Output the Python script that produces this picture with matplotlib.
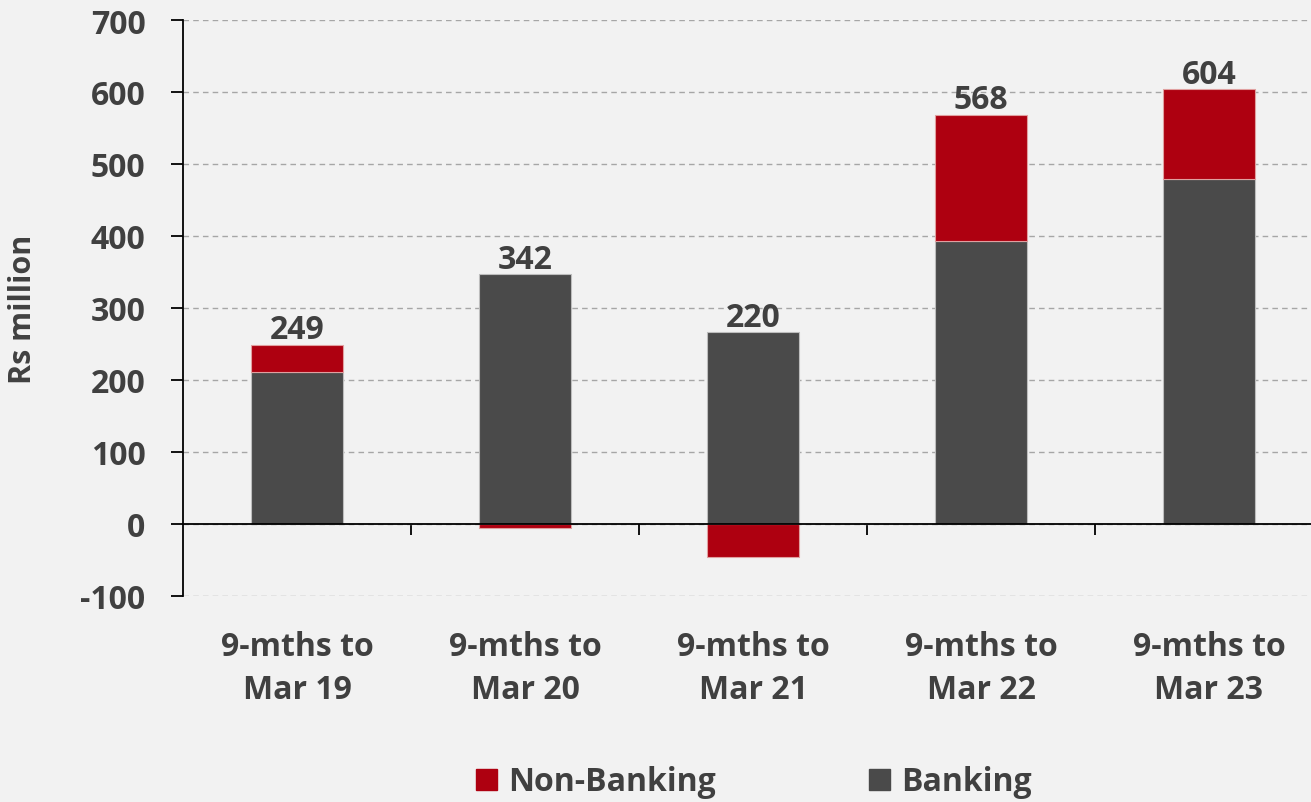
import numpy as np
import matplotlib.pyplot as plt
from matplotlib.patches import Patch

categories = ["9-mths to\nMar 19", "9-mths to\nMar 20", "9-mths to\nMar 21",
              "9-mths to\nMar 22", "9-mths to\nMar 23"]
banking = [211, 347, 266, 393, 479]
non_banking = [38, -5, -46, 175, 125]
totals = [249, 342, 220, 568, 604]

RED = "#ae0010"
GREY = "#4a4a4a"
TXT = "#404040"
BG = "#f2f2f2"

plt.rcParams['font.family'] = ['Open Sans', 'DejaVu Sans']
plt.rcParams['font.weight'] = 'bold'
plt.rcParams['axes.unicode_minus'] = False

FS = 23

fig = plt.figure(figsize=(13.11, 8.03), dpi=100, facecolor=BG)
ax = fig.add_axes([183 / 1311, 1 - 597 / 803, 1140 / 1311, 576 / 803])
ax.set_facecolor(BG)

x = np.arange(len(categories))
w = 0.4
ax.bar(x, banking, w, color=GREY, edgecolor="#bdbdbd", linewidth=0.8, zorder=3)
nb_bottom = [b if v >= 0 else 0 for b, v in zip(banking, non_banking)]
ax.bar(x, non_banking, w, bottom=nb_bottom, color=RED, edgecolor="#e0a0a0",
       linewidth=0.8, zorder=3)

for xi, b, v, t in zip(x, banking, non_banking, totals):
    top = b + max(v, 0)
    ax.annotate(f"{t}", (xi, top), xytext=(0, -1), textcoords="offset points",
                ha="center", va="bottom", fontsize=FS, fontweight="bold", color=TXT,
                zorder=4)

ax.set_xlim(-0.5, len(categories) - 0.5)
ax.set_ylim(-100, 700)
ax.set_yticks(np.arange(-100, 701, 100))
ax.yaxis.grid(True, linestyle=(0, (4, 3)), color="#a6a6a6", linewidth=1.0, zorder=0)
ax.set_axisbelow(True)

for s in ["top", "right"]:
    ax.spines[s].set_visible(False)
ax.spines["left"].set_color("black")
ax.spines["left"].set_linewidth(1.3)
ax.spines["bottom"].set_position(("data", 0))
ax.spines["bottom"].set_color("black")
ax.spines["bottom"].set_linewidth(1.3)
ax.spines["bottom"].set_zorder(5)

ax.set_xticks(x)
ax.set_xticklabels(categories, fontsize=FS, fontweight="bold", color=TXT,
                   linespacing=1.4)
ax.tick_params(axis="x", which="major", length=0, pad=76)
ax.set_xticks(x[:-1] + 0.5, minor=True)
ax.tick_params(axis="x", which="minor", length=8, width=1.3, direction="out")
ax.tick_params(axis="y", length=9, width=1.3, direction="out", pad=18,
               labelsize=FS, labelcolor=TXT)
for lab in ax.get_yticklabels():
    lab.set_fontweight("bold")

ax.set_ylabel("Rs million", fontsize=22, fontweight="bold", color=TXT)
ax.yaxis.set_label_coords(-0.127, 0.5)

handles = [Patch(color=RED, label="Non-Banking"), Patch(color=GREY, label="Banking")]
fig.legend(handles=handles, loc="center", bbox_to_anchor=(0.575, 0.025), ncol=2,
           frameon=False, handlelength=0.65, handleheight=0.65,
           handletextpad=0.35, columnspacing=4.8, labelcolor=TXT,
           prop={"weight": "bold", "size": FS})

fig.savefig("out.png", dpi=100, facecolor=BG)
